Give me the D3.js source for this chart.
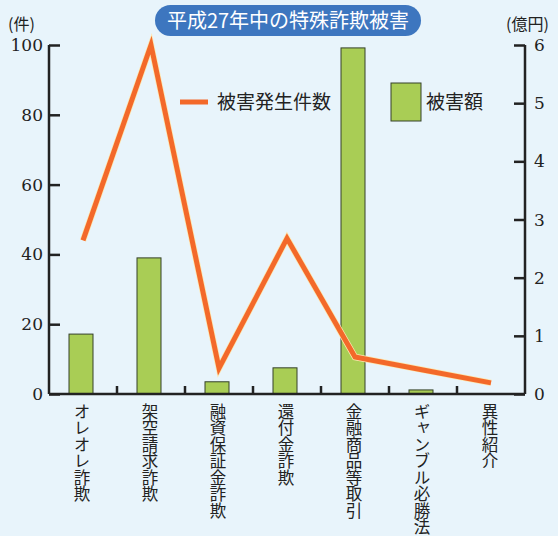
<!DOCTYPE html>
<html>
<head>
<meta charset="utf-8">
<script src="https://cdn.jsdelivr.net/npm/d3@7"></script>
<style>
  body { margin: 0; background: #e8f4fb; }
  svg { display: block; }
</style>
</head>
<body>
<svg width="558" height="536"></svg>
<script>
  const categories = ['オレオレ詐欺', '架空請求詐欺', '融資保証金詐欺', '還付金詐欺', '金融商品等取引', 'ギャンブル必勝法', '異性紹介'];
  const cases = [44, 100, 7.4, 44.6, 10.6, 6.9, 3.2];        // 被害発生件数 (件)
  const amounts = [1.03, 2.34, 0.21, 0.45, 5.95, 0.07, 0];   // 被害額 (億円)
  const leftTicks = [0, 20, 40, 60, 80, 100];
  const rightTicks = [0, 1, 2, 3, 4, 5, 6];

  const JP = '"Noto Sans CJK JP", "Noto Sans", sans-serif';
  const NUM = '"DejaVu Serif", "Liberation Serif", serif';

  const svg = d3.select('svg');
  const plotLeft = 49, plotRight = 525, plotTop = 45, plotBottom = 394;

  const x = d3.scaleBand().domain(categories).range([plotLeft, plotRight]);
  const yL = d3.scaleLinear().domain([0, 100]).range([plotBottom, plotTop]);
  const yR = d3.scaleLinear().domain([0, 6]).range([plotBottom, plotTop]);

  // title pill
  svg.append('rect')
    .attr('x', 155).attr('y', 5).attr('width', 266).attr('height', 31)
    .attr('rx', 15.5).attr('fill', '#3d76bf');
  svg.append('text').attr('font-family', JP)
    .attr('x', 288).attr('y', 28).attr('text-anchor', 'middle')
    .attr('fill', '#fff').attr('font-size', 20)
    .text('平成27年中の特殊詐欺被害');

  // bars
  svg.append('g').selectAll('rect')
    .data(categories.filter((c, i) => amounts[i] > 0))
    .join('rect')
      .attr('x', d => x(d) + x.bandwidth() / 2 - 14)
      .attr('width', 24)
      .attr('y', d => yR(amounts[categories.indexOf(d)]))
      .attr('height', d => plotBottom - yR(amounts[categories.indexOf(d)]))
      .attr('fill', '#a9cd55')
      .attr('stroke', '#34402a')
      .attr('stroke-width', 1);

  // line
  const line = d3.line()
    .x((d, i) => x(categories[i]) + x.bandwidth() / 2)
    .y(d => yL(d));
  svg.append('path')
    .datum(cases)
    .attr('d', line)
    .attr('fill', 'none')
    .attr('stroke', '#fde7b0')
    .attr('stroke-width', 6.5);
  svg.append('path')
    .datum(cases)
    .attr('d', line)
    .attr('fill', 'none')
    .attr('stroke', '#f3692a')
    .attr('stroke-width', 5);

  // left axis
  const axL = svg.append('g').attr('transform', `translate(${plotLeft},0)`)
    .call(d3.axisRight(yL).tickValues(leftTicks).tickSize(11).tickFormat(''));
  axL.select('.domain').attr('d', `M0,${plotTop}V${plotBottom}`);
  axL.selectAll('line, path').attr('stroke', '#222').attr('stroke-width', 2.5);
  svg.append('g').selectAll('text').data(leftTicks).join('text')
    .attr('font-family', NUM)
    .attr('x', plotLeft - 6).attr('y', d => yL(d) + 6)
    .attr('text-anchor', 'end').attr('font-size', 17).attr('fill', '#222')
    .text(d => d);

  // right axis
  const axR = svg.append('g').attr('transform', `translate(${plotRight},0)`)
    .call(d3.axisLeft(yR).tickValues(rightTicks).tickSize(11).tickFormat(''));
  axR.select('.domain').attr('d', `M0,${plotTop}V${plotBottom}`);
  axR.selectAll('line, path').attr('stroke', '#222').attr('stroke-width', 2.5);
  svg.append('g').selectAll('text').data(rightTicks).join('text')
    .attr('font-family', NUM)
    .attr('x', plotRight + 9).attr('y', d => yR(d) + 6)
    .attr('font-size', 17).attr('fill', '#222')
    .text(d => d);

  // baseline and category ticks
  svg.append('line')
    .attr('x1', plotLeft).attr('x2', plotRight).attr('y1', plotBottom).attr('y2', plotBottom)
    .attr('stroke', '#222').attr('stroke-width', 2.5);
  svg.append('g').selectAll('line').data(categories.slice(1)).join('line')
    .attr('x1', d => x(d)).attr('x2', d => x(d))
    .attr('y1', plotBottom).attr('y2', plotBottom - 8)
    .attr('stroke', '#222').attr('stroke-width', 2.5);

  // category labels (vertical)
  svg.append('g').selectAll('text').data(categories).join('text')
    .attr('font-family', JP)
    .attr('x', d => x(d) + x.bandwidth() / 2 - 1)
    .attr('y', 403)
    .style('writing-mode', 'vertical-rl')
    .attr('font-size', 16.5).attr('fill', '#222')
    .text(d => d);

  // unit labels
  svg.append('text').attr('font-family', JP)
    .attr('x', 8).attr('y', 30).attr('font-size', 16).attr('fill', '#222')
    .text('(件)');
  svg.append('text').attr('font-family', JP)
    .attr('x', 506).attr('y', 30).attr('font-size', 16).attr('fill', '#222')
    .text('(億円)');

  // legend
  svg.append('line')
    .attr('x1', 180).attr('x2', 208).attr('y1', 102).attr('y2', 102)
    .attr('stroke', '#f3692a').attr('stroke-width', 5);
  svg.append('text').attr('font-family', JP)
    .attr('x', 217).attr('y', 109).attr('font-size', 19).attr('fill', '#222')
    .text('被害発生件数');
  svg.append('rect')
    .attr('x', 391).attr('y', 83).attr('width', 30).attr('height', 38)
    .attr('fill', '#a9cd55').attr('stroke', '#34402a').attr('stroke-width', 1);
  svg.append('text').attr('font-family', JP)
    .attr('x', 426).attr('y', 109).attr('font-size', 19).attr('fill', '#222')
    .text('被害額');
</script>
</body>
</html>
